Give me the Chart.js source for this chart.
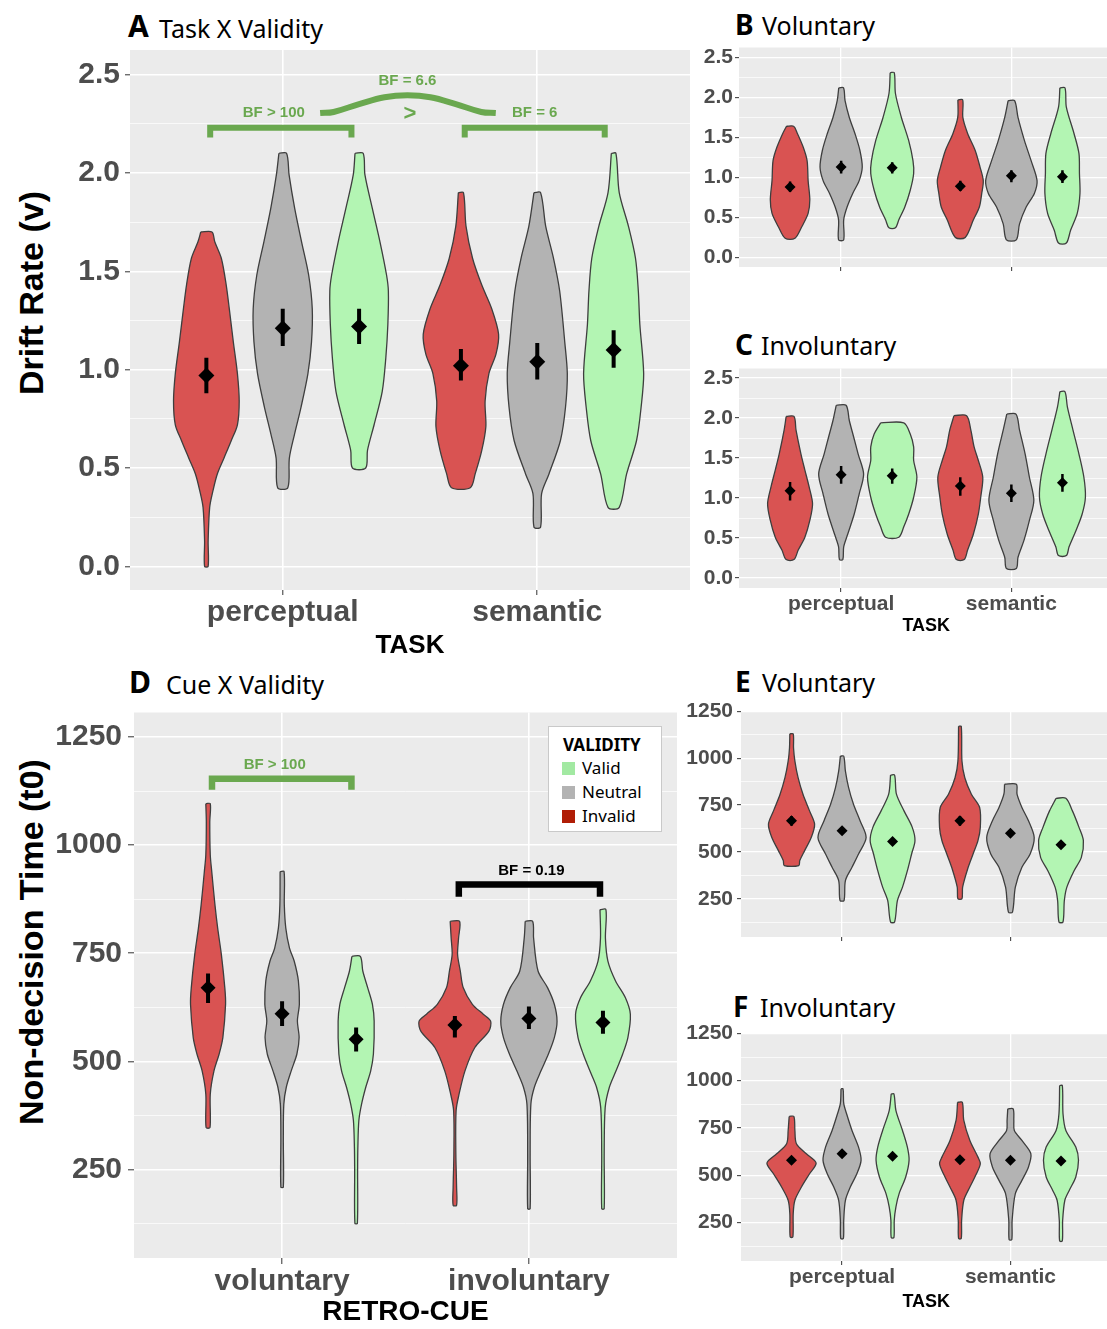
<!DOCTYPE html>
<html><head><meta charset="utf-8">
<script src="https://cdn.jsdelivr.net/npm/chart.js@4.4.0/dist/chart.umd.min.js"></script>
<style>
html,body{margin:0;padding:0;}
body{width:1107px;height:1329px;overflow:hidden;background:#fff;position:relative;font-family:"Noto Sans",Roboto,sans-serif;}
.pl{position:absolute;font-family:"Noto Sans",sans-serif;font-weight:bold;line-height:1;white-space:nowrap;color:#000;}
.pt{position:absolute;font-family:"Noto Sans",sans-serif;font-size:25px;line-height:1;white-space:nowrap;color:#000;}
.yt{position:absolute;transform:translate(-50%,-50%) rotate(-90deg);font:bold 34px "Liberation Sans",Arial,sans-serif;white-space:nowrap;color:#000;line-height:1;}
#legend{position:absolute;left:548px;top:726px;width:114px;height:106px;box-sizing:border-box;border:1.5px solid #c9c9c9;background:#fff;}
#legend div{position:absolute;white-space:nowrap;font-family:"Noto Sans",sans-serif;line-height:20px;}
canvas{position:absolute;}
</style></head>
<body>
<span class="pl" style="left:128px;top:11px;font-size:30px">A</span><span class="pt" style="left:159px;top:16px">Task X Validity</span>
<span class="pl" style="left:735px;top:10px;font-size:28px">B</span><span class="pt" style="left:762px;top:13px">Voluntary</span>
<span class="pl" style="left:735px;top:330px;font-size:28px">C</span><span class="pt" style="left:761px;top:333px">Involuntary</span>
<span class="pl" style="left:129px;top:667px;font-size:30px">D</span><span class="pt" style="left:166px;top:672px">Cue X Validity</span>
<span class="pl" style="left:735px;top:667px;font-size:28px">E</span><span class="pt" style="left:762px;top:670px">Voluntary</span>
<span class="pl" style="left:733px;top:992px;font-size:28px">F</span><span class="pt" style="left:760px;top:995px">Involuntary</span>
<div class="yt" style="left:31px;top:293px">Drift Rate (v)</div>
<div class="yt" style="left:31px;top:942px">Non-decision Time (t0)</div>
<script>
// ---------------- categories ----------------
const tasks = ['perceptual', 'semantic'];
const cues = ['voluntary', 'involuntary'];
const validityLevels = ['Invalid', 'Neutral', 'Valid'];
const legendOrder = ['Valid', 'Neutral', 'Invalid'];

// ---------------- violin profiles: [value, half-width in category units], top to bottom ----------------
// Panel A: drift rate, task x validity
const A_perc_inv = [[1.70,0.022],[1.65,0.033],[1.565,0.059],[1.43,0.078],[1.31,0.090],[1.14,0.106],[0.98,0.122],[0.84,0.129],[0.72,0.122],[0.64,0.098],[0.55,0.069],[0.47,0.043],[0.385,0.026],[0.30,0.013],[0.13,0.007],[0.0,0.007]];
const A_perc_neu = [[2.10,0.015],[1.99,0.025],[1.82,0.047],[1.65,0.074],[1.48,0.102],[1.31,0.116],[1.14,0.113],[0.98,0.099],[0.81,0.072],[0.67,0.046],[0.55,0.026],[0.40,0.020]];
const A_perc_val = [[2.10,0.016],[1.99,0.023],[1.82,0.052],[1.65,0.082],[1.48,0.108],[1.40,0.115],[1.23,0.113],[1.06,0.105],[0.89,0.091],[0.72,0.059],[0.59,0.033],[0.50,0.026]];
const A_sem_inv = [[1.90,0.010],[1.73,0.020],[1.565,0.046],[1.43,0.082],[1.31,0.121],[1.18,0.148],[1.08,0.138],[0.98,0.110],[0.84,0.095],[0.71,0.098],[0.59,0.082],[0.47,0.056],[0.40,0.037]];
const A_sem_neu = [[1.90,0.013],[1.73,0.033],[1.565,0.064],[1.40,0.088],[1.14,0.108],[0.98,0.118],[0.81,0.111],[0.64,0.091],[0.47,0.046],[0.37,0.017],[0.20,0.013]];
const A_sem_val = [[2.10,0.009],[1.90,0.022],[1.73,0.058],[1.565,0.086],[1.40,0.097],[1.23,0.103],[0.98,0.118],[0.81,0.108],[0.64,0.090],[0.47,0.051],[0.30,0.022]];
const A_mean = [0.97, 1.21, 1.22, 1.02, 1.04, 1.10];
const A_lo   = [0.88, 1.12, 1.13, 0.945, 0.95, 1.01];
const A_hi   = [1.06, 1.31, 1.31, 1.105, 1.135, 1.20];

// Panel B: drift rate, voluntary
const B_perc_inv = [[1.64,0.021],[1.55,0.043],[1.38,0.077],[1.21,0.100],[0.96,0.106],[0.72,0.116],[0.55,0.106],[0.38,0.068],[0.24,0.029]];
const B_perc_neu = [[2.12,0.014],[1.96,0.023],[1.75,0.048],[1.55,0.081],[1.34,0.110],[1.13,0.124],[0.96,0.106],[0.80,0.068],[0.63,0.035],[0.47,0.015],[0.22,0.015]];
const B_perc_val = [[2.31,0.012],[2.05,0.019],[1.75,0.054],[1.46,0.097],[1.21,0.122],[1.05,0.126],[0.84,0.106],[0.63,0.074],[0.47,0.039],[0.37,0.019]];
const B_sem_inv = [[1.97,0.014],[1.75,0.015],[1.55,0.043],[1.34,0.087],[1.13,0.116],[0.96,0.135],[0.80,0.126],[0.63,0.112],[0.47,0.077],[0.25,0.029]];
const B_sem_neu = [[1.96,0.019],[1.75,0.039],[1.46,0.077],[1.21,0.116],[0.96,0.151],[0.80,0.135],[0.63,0.087],[0.42,0.048],[0.22,0.029]];
const B_sem_val = [[2.12,0.015],[1.88,0.023],[1.55,0.068],[1.30,0.097],[1.05,0.100],[0.80,0.103],[0.55,0.087],[0.34,0.048],[0.18,0.023]];
const B_mean = [0.88, 1.13, 1.12, 0.89, 1.02, 1.01];
const B_lo   = [0.82, 1.05, 1.05, 0.83, 0.94, 0.93];
const B_hi   = [0.95, 1.21, 1.19, 0.96, 1.09, 1.09];

// Panel C: drift rate, involuntary
const C_perc_inv = [[2.02,0.023],[1.85,0.035],[1.55,0.064],[1.35,0.087],[1.14,0.112],[0.93,0.132],[0.72,0.116],[0.51,0.087],[0.35,0.048],[0.23,0.023]];
const C_perc_neu = [[2.16,0.029],[1.97,0.048],[1.76,0.074],[1.55,0.100],[1.30,0.132],[1.05,0.106],[0.80,0.077],[0.55,0.039],[0.39,0.015],[0.23,0.010]];
const C_perc_val = [[1.94,0.068],[1.80,0.106],[1.64,0.126],[1.47,0.126],[1.26,0.145],[1.01,0.126],[0.80,0.097],[0.64,0.068],[0.51,0.039]];
const C_sem_inv = [[2.03,0.037],[1.85,0.062],[1.64,0.081],[1.47,0.106],[1.26,0.132],[1.01,0.120],[0.80,0.106],[0.55,0.077],[0.35,0.043],[0.23,0.023]];
const C_sem_neu = [[2.05,0.027],[1.85,0.048],[1.55,0.081],[1.26,0.106],[0.97,0.132],[0.72,0.106],[0.47,0.074],[0.26,0.039],[0.12,0.029]];
const C_sem_val = [[2.33,0.015],[2.14,0.029],[1.85,0.062],[1.55,0.097],[1.26,0.126],[1.01,0.135],[0.80,0.116],[0.60,0.081],[0.39,0.039],[0.28,0.023]];
const C_mean = [1.09, 1.29, 1.28, 1.15, 1.06, 1.19];
const C_lo   = [0.97, 1.18, 1.18, 1.03, 0.95, 1.08];
const C_hi   = [1.20, 1.40, 1.37, 1.26, 1.17, 1.30];

// Panel D: non-decision time, cue x validity
const D_vol_inv = [[1096,0.009],[1054,0.007],[978,0.009],[939,0.015],[862,0.028],[808,0.039],[747,0.054],[670,0.068],[632,0.071],[555,0.060],[517,0.045],[478,0.024],[424,0.009],[347,0.008]];
const D_vol_neu = [[939,0.008],[862,0.009],[808,0.015],[762,0.030],[732,0.049],[686,0.066],[632,0.070],[593,0.062],[555,0.069],[517,0.060],[478,0.037],[440,0.017],[401,0.007],[324,0.005],[209,0.005]];
const D_vol_val = [[743,0.017],[709,0.027],[670,0.047],[632,0.066],[593,0.073],[517,0.070],[478,0.059],[440,0.039],[401,0.022],[363,0.011],[301,0.007],[248,0.006],[125,0.005]];
const D_inv_inv = [[824,0.019],[785,0.015],[747,0.011],[709,0.022],[670,0.034],[632,0.071],[609,0.115],[593,0.145],[570,0.138],[532,0.081],[478,0.041],[424,0.017],[386,0.005],[286,0.004],[209,0.007],[167,0.007]];
const D_inv_neu = [[824,0.015],[785,0.019],[709,0.037],[670,0.076],[632,0.103],[593,0.114],[555,0.103],[517,0.079],[478,0.049],[440,0.022],[401,0.008],[286,0.005],[159,0.005]];
const D_inv_val = [[851,0.012],[785,0.010],[732,0.020],[686,0.051],[647,0.091],[609,0.111],[555,0.101],[517,0.080],[478,0.053],[440,0.026],[393,0.009],[286,0.005],[159,0.005]];
const D_mean = [670, 610, 551, 584, 599, 590];
const D_lo   = [635, 582, 523, 555, 575, 564];
const D_hi   = [703, 639, 578, 605, 627, 617];

// Panel E: non-decision time, voluntary
const E_perc_inv = [[1130,0.010],[1055,0.012],[985,0.020],[896,0.039],[808,0.068],[719,0.107],[648,0.137],[577,0.117],[507,0.078],[454,0.049],[427,0.043]];
const E_perc_neu = [[1011,0.010],[931,0.020],[843,0.039],[754,0.068],[666,0.107],[577,0.143],[489,0.098],[418,0.059],[347,0.020],[241,0.012]];
const E_perc_val = [[910,0.012],[808,0.023],[719,0.068],[631,0.117],[560,0.133],[489,0.113],[400,0.088],[312,0.059],[241,0.029],[126,0.012]];
const E_sem_inv = [[1170,0.008],[985,0.012],[896,0.029],[808,0.068],[737,0.117],[631,0.121],[560,0.107],[489,0.078],[418,0.049],[312,0.016],[250,0.012]];
const E_sem_neu = [[861,0.035],[808,0.039],[737,0.068],[666,0.107],[577,0.141],[489,0.117],[418,0.068],[312,0.029],[179,0.012]];
const E_sem_val = [[786,0.029],[719,0.068],[631,0.107],[560,0.133],[471,0.121],[400,0.078],[312,0.035],[241,0.020],[126,0.012]];
const E_mean = [666, 613, 556, 666, 600, 538];
const E_lo   = [640, 595, 540, 640, 585, 522];
const E_hi   = [692, 632, 572, 692, 615, 555];

// Panel F: non-decision time, involuntary
const F_perc_inv = [[811,0.014],[737,0.020],[667,0.029],[614,0.088],[565,0.146],[508,0.107],[438,0.059],[368,0.020],[297,0.010],[174,0.008]];
const F_perc_neu = [[957,0.006],[880,0.010],[825,0.027],[737,0.059],[649,0.098],[579,0.113],[508,0.088],[438,0.049],[368,0.020],[262,0.010],[166,0.008]];
const F_perc_val = [[930,0.008],[842,0.020],[737,0.059],[649,0.088],[579,0.098],[491,0.078],[403,0.039],[333,0.020],[262,0.010],[171,0.008]];
const F_sem_inv = [[886,0.014],[790,0.023],[684,0.059],[596,0.107],[561,0.121],[508,0.098],[438,0.059],[368,0.023],[262,0.010],[166,0.008]];
const F_sem_neu = [[851,0.016],[790,0.020],[737,0.023],[684,0.068],[614,0.121],[544,0.107],[473,0.068],[403,0.029],[262,0.010],[160,0.008]];
const F_sem_val = [[974,0.008],[825,0.012],[737,0.029],[649,0.088],[579,0.104],[491,0.088],[420,0.049],[368,0.023],[262,0.010],[153,0.008]];
const F_mean = [579, 614, 600, 582, 579, 575];
const F_lo   = [565, 600, 588, 568, 566, 562];
const F_hi   = [593, 628, 612, 596, 592, 588];

// ---------------- significance brackets & labels (data coordinates) ----------------
const A_bracket1 = [[0.715,2.18],[0.715,2.23],[1.27,2.23],[1.27,2.18]];
const A_bracket2 = [[1.715,2.18],[1.715,2.23],[2.265,2.23],[2.265,2.18]];
const A_curve = [[1.147,2.305],[1.20,2.31],[1.30,2.35],[1.40,2.385],[1.49,2.395],[1.58,2.385],[1.68,2.35],[1.78,2.31],[1.837,2.305]];
const A_notes = [['BF > 100',0.965,2.305],['BF = 6',1.99,2.305],['BF = 6.6',1.49,2.47],['>',1.50,2.30]];
const D_bracket1 = [[0.716,1128],[0.716,1154],[1.281,1154],[1.281,1128]];
const D_bracket2 = [[1.716,881],[1.716,909],[2.288,909],[2.288,881]];
const D_notes = [['BF > 100',0.97,1186],['BF = 0.19',2.01,940]];

// ---------------- styling ----------------
const fills = ['#d95352', '#b3b3b3', '#b3f5b3'];
const legendColors = {Valid:'#a2e9a2', Neutral:'#b3b3b3', Invalid:'#b01d06'};
const outline = '#3e3e3e';
const green = '#6aa84f';
const dodge = [-0.3, 0, 0.3];
const tickFont = 'Liberation Sans, Arial, sans-serif';

const bgPlugin = {
  id: 'panelBg',
  beforeDraw(chart) {
    const {ctx, chartArea: a} = chart;
    ctx.save(); ctx.fillStyle = '#ebebeb';
    ctx.fillRect(a.left, a.top, a.right - a.left, a.bottom - a.top);
    ctx.restore();
  }
};
const notesPlugin = {
  id: 'notes',
  afterDatasetsDraw(chart, args, opts) {
    const items = (opts && opts.items) || [];
    const {ctx} = chart; const xs = chart.scales.x, ys = chart.scales.y;
    ctx.save(); ctx.textAlign = 'center'; ctx.textBaseline = 'middle';
    items.forEach(it => {
      ctx.font = it.font; ctx.fillStyle = it.color;
      ctx.fillText(it.text, xs.getPixelForValue(it.x), ys.getPixelForValue(it.y));
    });
    ctx.restore();
  }
};

function violinPoints(center, prof) {
  const right = prof.map(([v, w]) => ({x: center + w, y: v}));
  const left = prof.slice().reverse().map(([v, w]) => ({x: center - w, y: v}));
  return [{x: center - prof[0][1], y: prof[0][0]}].concat(right, left);
}
function posOf(i) { return Math.floor(i / 3) + 1 + dodge[i % 3]; }
function range(a, b, s) { const r = []; for (let v = a; v <= b + 1e-9; v += s) r.push(+v.toFixed(4)); return r; }

function makePanel(p) {
  const canvas = document.createElement('canvas');
  const W = p.yw + (p.R - p.L) + p.pr, H = p.pt + (p.B - p.T) + p.xh;
  canvas.width = W; canvas.height = H;
  canvas.style.left = (p.L - p.yw) + 'px'; canvas.style.top = (p.T - p.pt) + 'px';
  canvas.style.width = W + 'px'; canvas.style.height = H + 'px';
  document.body.appendChild(canvas);

  const datasets = [];
  p.violins.forEach((prof, i) => {
    datasets.push({data: violinPoints(posOf(i), prof), fill: 'shape', backgroundColor: fills[i % 3],
      borderColor: outline, borderWidth: 1.3, pointRadius: 0, tension: 0.3, order: 5});
  });
  const eb = [];
  p.mean.forEach((m, i) => { const c = posOf(i); eb.push({x: c, y: p.lo[i]}, {x: c, y: p.hi[i]}, {x: c, y: null}); });
  datasets.push({data: eb, borderColor: '#000', borderWidth: p.ebw, pointRadius: 0, fill: false, tension: 0, spanGaps: false, order: 3, borderCapStyle: 'butt'});
  datasets.push({data: p.mean.map((m, i) => ({x: posOf(i), y: m})), showLine: false, pointStyle: 'rectRot',
    pointRadius: p.mr, pointBackgroundColor: '#000', pointBorderColor: '#000', pointBorderWidth: 0, order: 2});
  (p.brackets || []).forEach(b => {
    datasets.push({data: b.pts.map(([x, y]) => ({x, y})), borderColor: b.color, borderWidth: b.w, pointRadius: 0,
      fill: false, tension: b.tension || 0, borderJoinStyle: 'miter', borderCapStyle: 'butt', order: 1});
  });

  const majors = p.yMajor;
  const isMajor = v => majors.some(m => Math.abs(m - v) < 1e-6);
  new Chart(canvas, {
    type: 'line',
    data: {datasets},
    plugins: [bgPlugin, notesPlugin],
    options: {
      responsive: false, animation: false, devicePixelRatio: 1, events: [],
      layout: {padding: {top: p.pt, right: p.pr, left: 0, bottom: 0}},
      plugins: {legend: {display: false}, tooltip: {enabled: false}, notes: {items: p.notes || []}},
      scales: {
        x: {
          type: 'linear', min: 0.4, max: 2.6,
          afterBuildTicks: s => { s.ticks = [{value: 1}, {value: 2}]; },
          afterFit: s => { s.height = p.xh; s.paddingLeft = 0; s.paddingRight = 0; s.paddingTop = 0; s.paddingBottom = 0; },
          ticks: {autoSkip: false, maxRotation: 0, padding: p.xpad, color: '#4d4d4d',
            font: {family: tickFont, size: p.xfs, weight: 'bold'},
            callback: v => p.xLabels ? p.xLabels[Math.round(v) - 1] : ''},
          grid: {color: '#ffffff', lineWidth: p.gw, tickColor: '#333333', tickLength: p.tl, tickWidth: 1},
          border: {display: false},
          title: {display: !!p.xTitle, text: p.xTitle || '', color: '#000',
            font: {family: tickFont, size: p.xtfs, weight: 'bold'}, padding: {top: 0, bottom: p.xtpb}}
        },
        y: {
          type: 'linear', min: p.ymin, max: p.ymax,
          afterBuildTicks: s => { s.ticks = p.yTicks.map(v => ({value: v})); },
          afterFit: s => { s.width = p.yw; s.paddingTop = 0; s.paddingBottom = 0; s.paddingLeft = 0; s.paddingRight = 0; },
          ticks: {autoSkip: false, padding: p.ypad, color: '#4d4d4d',
            font: {family: tickFont, size: p.yfs, weight: 'bold'},
            callback: v => isMajor(v) ? p.yFmt(v) : ''},
          grid: {color: '#ffffff', tickLength: p.tl, tickWidth: 1,
            lineWidth: c => (c.tick && isMajor(c.tick.value)) ? p.gw : 0.7,
            tickColor: c => (c.tick && isMajor(c.tick.value)) ? '#333333' : 'rgba(0,0,0,0)'},
          border: {display: false}
        }
      }
    }
  });
}

const driftTicks = range(0, 2.5, 0.25);
const driftMajor = range(0, 2.5, 0.5);
const t0Ticks = range(125, 1250, 125);
const t0Major = range(250, 1250, 250);
const fmt1 = v => v.toFixed(1);
const fmt0 = v => String(Math.round(v));
const noteFont = 'bold 15px ' + tickFont;

// A
makePanel({L:130, T:47, R:690, B:590, yw:130, xh:72, pt:5, pr:8, ymin:-0.12, ymax:2.625,
  yTicks: driftTicks, yMajor: driftMajor, yFmt: fmt1, yfs:30, xfs:30, xtfs:26, xtpb:1, xpad:0, ypad:5, tl:5, gw:1.6,
  xLabels: tasks, xTitle: 'TASK', ebw: 4, mr: 8,
  violins: [A_perc_inv, A_perc_neu, A_perc_val, A_sem_inv, A_sem_neu, A_sem_val],
  mean: A_mean, lo: A_lo, hi: A_hi,
  brackets: [{pts: A_bracket1, color: green, w: 6}, {pts: A_bracket2, color: green, w: 6}, {pts: A_curve, color: green, w: 6, tension: 0.4}],
  notes: A_notes.map(([t, x, y]) => ({text: t, x, y, color: green, font: t === '>' ? 'bold 22px ' + tickFont : noteFont}))
});
// B
makePanel({L:739, T:47, R:1119, B:267, yw:60, xh:20, pt:5, pr:0, ymin:-0.12, ymax:2.625,
  yTicks: driftTicks, yMajor: driftMajor, yFmt: fmt1, yfs:21, xfs:21, xtfs:18, xtpb:0, xpad:0, ypad:2, tl:4, gw:1.3,
  xLabels: null, xTitle: null, ebw: 2.5, mr: 5.5,
  violins: [B_perc_inv, B_perc_neu, B_perc_val, B_sem_inv, B_sem_neu, B_sem_val],
  mean: B_mean, lo: B_lo, hi: B_hi
});
// C
makePanel({L:739, T:368, R:1119, B:588, yw:60, xh:50, pt:5, pr:0, ymin:-0.125, ymax:2.62,
  yTicks: driftTicks, yMajor: driftMajor, yFmt: fmt1, yfs:21, xfs:21, xtfs:18, xtpb:1, xpad:0, ypad:2, tl:4, gw:1.3,
  xLabels: tasks, xTitle: 'TASK', ebw: 2.5, mr: 5.5,
  violins: [C_perc_inv, C_perc_neu, C_perc_val, C_sem_inv, C_sem_neu, C_sem_val],
  mean: C_mean, lo: C_lo, hi: C_hi
});
// D
makePanel({L:134, T:710, R:677, B:1258, yw:134, xh:71, pt:5, pr:8, ymin:45, ymax:1307,
  yTicks: t0Ticks, yMajor: t0Major, yFmt: fmt0, yfs:30, xfs:30, xtfs:28, xtpb:0, xpad:0, ypad:6, tl:6, gw:1.6,
  xLabels: cues, xTitle: 'RETRO-CUE', ebw: 4, mr: 7.5,
  violins: [D_vol_inv, D_vol_neu, D_vol_val, D_inv_inv, D_inv_neu, D_inv_val],
  mean: D_mean, lo: D_lo, hi: D_hi,
  brackets: [{pts: D_bracket1, color: green, w: 6.5}, {pts: D_bracket2, color: '#000', w: 6.5}],
  notes: [{text: D_notes[0][0], x: D_notes[0][1], y: D_notes[0][2], color: green, font: noteFont},
          {text: D_notes[1][0], x: D_notes[1][1], y: D_notes[1][2], color: '#000', font: noteFont}]
});
// E
makePanel({L:741, T:711, R:1117, B:937, yw:62, xh:20, pt:15, pr:0, ymin:46, ymax:1252,
  yTicks: t0Ticks, yMajor: t0Major, yFmt: fmt0, yfs:21, xfs:21, xtfs:18, xtpb:0, xpad:0, ypad:4, tl:4, gw:1.3,
  xLabels: null, xTitle: null, ebw: 2.5, mr: 5.5,
  violins: [E_perc_inv, E_perc_neu, E_perc_val, E_sem_inv, E_sem_neu, E_sem_val],
  mean: E_mean, lo: E_lo, hi: E_hi
});
// F
makePanel({L:741, T:1033, R:1117, B:1261, yw:62, xh:60, pt:15, pr:0, ymin:47, ymax:1252,
  yTicks: t0Ticks, yMajor: t0Major, yFmt: fmt0, yfs:21, xfs:21, xtfs:18, xtpb:8, xpad:0, ypad:4, tl:4, gw:1.3,
  xLabels: tasks, xTitle: 'TASK', ebw: 2.5, mr: 5.5,
  violins: [F_perc_inv, F_perc_neu, F_perc_val, F_sem_inv, F_sem_neu, F_sem_val],
  mean: F_mean, lo: F_lo, hi: F_hi
});

// legend for panel D
const lg = document.createElement('div'); lg.id = 'legend';
const lt = document.createElement('div'); lt.textContent = 'VALIDITY';
lt.style.cssText = 'left:14px;top:8px;font-weight:bold;font-size:17px;';
lg.appendChild(lt);
legendOrder.forEach((name, k) => {
  const sq = document.createElement('div');
  sq.style.cssText = `left:13px;top:${35 + k * 24}px;width:13px;height:13px;background:${legendColors[name]};`;
  const tx = document.createElement('div'); tx.textContent = name;
  tx.style.cssText = `left:33px;top:${31 + k * 24}px;font-size:17px;color:#000;`;
  lg.appendChild(sq); lg.appendChild(tx);
});
document.body.appendChild(lg);
</script>
</body></html>
